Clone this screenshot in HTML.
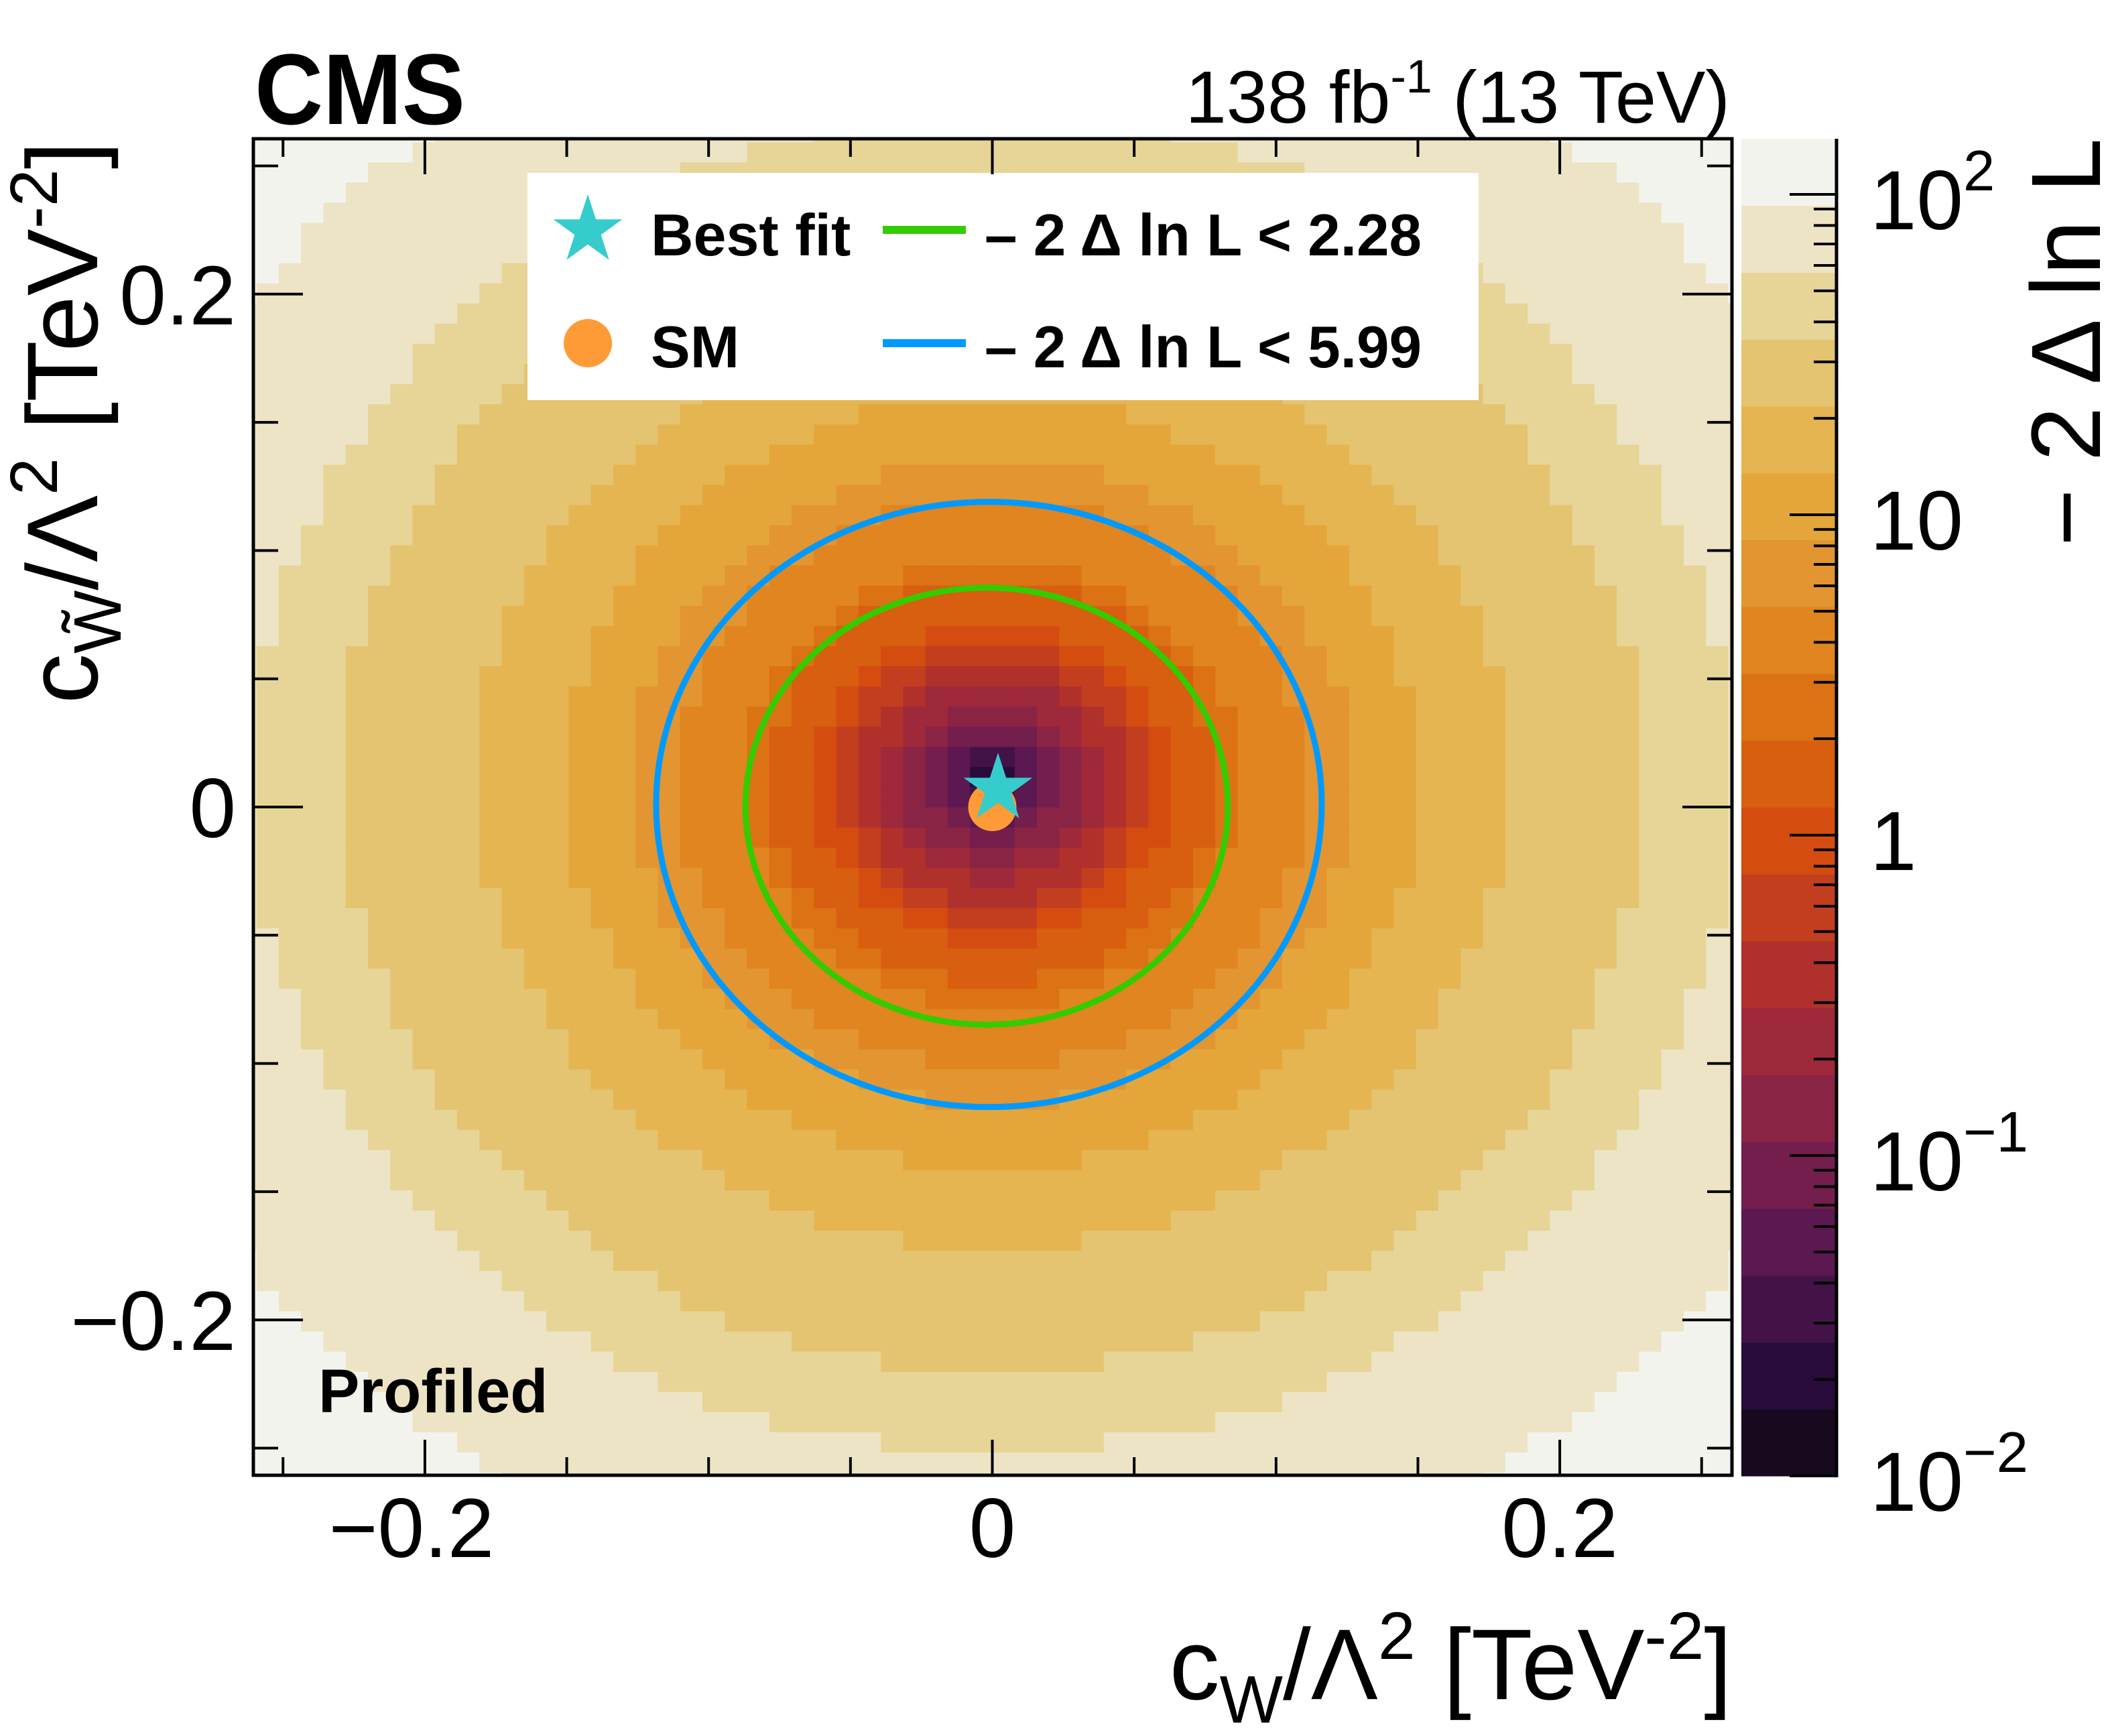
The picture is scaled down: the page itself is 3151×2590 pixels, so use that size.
<!DOCTYPE html>
<html><head><meta charset="utf-8"><style>
html,body{margin:0;padding:0;background:#fff;}
svg{display:block;font-family:"Liberation Sans",Arial,sans-serif;}
</style></head><body>
<svg id="chart" width="3151" height="2590" viewBox="0 0 3151 2590" xmlns="http://www.w3.org/2000/svg">
<defs><clipPath id="plotclip"><rect x="378" y="207" width="2206" height="1994"/></clipPath></defs>
<rect x="0" y="0" width="3151" height="2590" fill="#fff"/>
<g id="heatmap" clip-path="url(#plotclip)"></g>
<g id="contours" clip-path="url(#plotclip)"></g>
<g id="markers"></g>
<g id="legend">
  <rect x="787" y="258" width="1419" height="339" fill="#fff"/>
  <polygon id="legstar" fill="#36cccb"/>
  <text x="971" y="381" font-size="88" font-weight="bold">Best fit</text>
  <ellipse cx="877" cy="512" rx="36" ry="36" fill="#ff9b36"/>
  <text x="971" y="548" font-size="88" font-weight="bold">SM</text>
  <rect x="1317" y="337" width="124" height="12" fill="#33cc00"/>
  <text x="1469" y="381" font-size="88" font-weight="bold" textLength="652" lengthAdjust="spacingAndGlyphs">– 2  Δ ln L &lt; 2.28</text>
  <rect x="1317" y="506" width="124" height="12" fill="#0099ff"/>
  <text x="1469" y="548" font-size="88" font-weight="bold" textLength="652" lengthAdjust="spacingAndGlyphs">– 2  Δ ln L &lt; 5.99</text>
</g>
<g id="axes"></g>
<g id="colorbar"></g>
<text x="380" y="185" font-size="150" font-weight="bold" textLength="314" lengthAdjust="spacingAndGlyphs">CMS</text>
<text x="2581" y="183" font-size="110" text-anchor="end">138 fb<tspan font-size="70" dy="-45">-1</tspan><tspan dy="45"> (13 TeV)</tspan></text>
<text x="475" y="2107" font-size="92" font-weight="bold">Profiled</text>
<text x="2584" y="2535" font-size="150" text-anchor="end">c<tspan font-size="100" dy="35">W</tspan><tspan dy="-35">/Λ</tspan><tspan font-size="100" dy="-60">2</tspan><tspan dy="60"> [TeV</tspan><tspan font-size="100" dy="-60">-2</tspan><tspan dy="60">]</tspan></text>
<text transform="translate(145,1050) rotate(-90)" x="0" y="0" font-size="150">c<tspan font-size="100" dy="35">W̃</tspan><tspan dy="-35">/Λ</tspan><tspan font-size="100" dy="-60">2</tspan><tspan dy="60"> [TeV</tspan><tspan font-size="100" dy="-60">-2</tspan><tspan dy="60">]</tspan></text>
<text transform="translate(3133,206) rotate(-90)" x="0" y="0" font-size="147" text-anchor="end">− 2 Δ ln L</text>
</svg>
<script>
// ---- data ----
const profileR = [0.0, 0.004, 0.008, 0.011, 0.0156, 0.0236, 0.0314, 0.0392, 0.0472, 0.055, 0.0628, 0.0787, 0.0867, 0.110, 0.126, 0.150, 0.181, 0.229, 0.260, 0.320, 0.40];
const profileNLL = [0.012, 0.018, 0.030, 0.042, 0.068, 0.110, 0.178, 0.288, 0.466, 0.753, 1.22, 1.97, 3.18, 5.13, 8.3, 13.4, 21.7, 35.1, 56.6, 91.4, 160];
const minimumXY = [0.0, 0.010];
const binWidth = [0.00786];
const bandColors = ["#170a1e","#280b3a","#431347","#5c1850","#741e4d","#8a2444","#9e293a","#b0302c","#c23e1e","#d54c10","#d85e10","#db7214","#e0851f","#e29530","#e4a63a","#e4b551","#e4c471","#e6d596","#ede4c5","#f3f3ee"];
const colorLogMin = [-2];
const colorLogMax = [2.174];
const contourLevels = ["2.28","5.99"];
const contourColors = ["#33cc00","#0099ff"];
const contourCx = [-0.002, -0.0012];
const contourCy = [0.0003, 0.001];
const contourRx = [0.085, 0.1173];
const contourRy = [0.0852, 0.118];
const bestFit = [0.002, 0.006];
const smPoint = [0.0, 0.0];
const xTicks = [-0.2, 0, 0.2];
const xTickLabels = ["−0.2","0","0.2"];
const yTicks = [-0.2, 0, 0.2];
const yTickLabels = ["−0.2","0","0.2"];
const cbDecades = [-2,-1,0,1,2];
const cbLabels = ["10","10","1","10","10"];
const cbExps = ["−2","−1","","",  "2"];

// ---- axes ----
const NS="http://www.w3.org/2000/svg";
const X0=378,X1=2584,Y0=207,Y1=2201;
const sx=v=>1480.5+v*4233;
const sy=v=>1204-v*3826;
const CB0=2598,CB1=2740;
const cy=l=>2202-(l+2)*478;
function mk(tag,parent,attrs){const e=document.createElementNS(NS,tag);for(const k in attrs)e.setAttribute(k,attrs[k]);parent.appendChild(e);return e;}

function nll(x,y){
  const r=Math.hypot(x-minimumXY[0],y-minimumXY[1]);
  for(let i=1;i<profileR.length;i++){
    if(r<=profileR[i]){
      const t=(r-profileR[i-1])/(profileR[i]-profileR[i-1]);
      return Math.pow(10,Math.log10(profileNLL[i-1])+t*(Math.log10(profileNLL[i])-Math.log10(profileNLL[i-1])));
    }
  }
  return profileNLL[profileNLL.length-1];
}
function colorFor(v){
  const nb=bandColors.length;
  let k=Math.floor((Math.log10(v)-colorLogMin[0])/((colorLogMax[0]-colorLogMin[0])/nb));
  k=Math.max(0,Math.min(nb-1,k));
  return bandColors[k];
}
const hm=document.getElementById('heatmap');
const bw=binWidth[0];
for(let i=-34;i<34;i++){
  for(let j=-34;j<34;j++){
    const xa=i*bw,xb=(i+1)*bw,ya=j*bw,yb=(j+1)*bw;
    const v=nll((xa+xb)/2,(ya+yb)/2);
    const r=mk('rect',hm,{x:sx(xa),y:sy(yb),width:sx(xb)-sx(xa)+0.6,height:sy(ya)-sy(yb)+0.6,fill:colorFor(v)});
    
    
  }
}
const cg=document.getElementById('contours');
contourLevels.forEach((lv,i)=>{
  const e=mk('ellipse',cg,{cx:sx(contourCx[i]),cy:sy(contourCy[i]),rx:sx(contourRx[i])-sx(0),ry:sy(0)-sy(contourRy[i]),fill:'none',stroke:contourColors[i],'stroke-width':9});
  
  
});
function starPts(cx,cy,R){const r=R*0.382;let p=[];for(let k=0;k<10;k++){const a=-Math.PI/2+k*Math.PI/5;const rr=k%2?r:R;p.push((cx+rr*Math.cos(a)).toFixed(1)+','+(cy+rr*Math.sin(a)).toFixed(1));}return p.join(' ');}
const mg=document.getElementById('markers');
const sm=mk('circle',mg,{cx:sx(smPoint[0]),cy:sy(smPoint[1]),r:36,fill:'#ff9b36'});


const bf=mk('polygon',mg,{points:starPts(sx(bestFit[0]),sy(bestFit[1])-4,54),fill:'#36cccb'});


document.getElementById('legstar').setAttribute('points',starPts(877,344,54));

const ax=document.getElementById('axes');
const fr=mk('rect',ax,{x:X0,y:Y0,width:X1-X0,height:Y1-Y0,fill:'none',stroke:'#000','stroke-width':5});


for(let k=-5;k<=5;k++){
  const v=k*0.05, major=(k%4===0);
  const X=sx(v), Y=sy(v);
  const lx=major?53:27, ly=major?74:37;
  const t1=mk('line',ax,{x1:X,x2:X,y1:Y1,y2:Y1-lx,stroke:'#000','stroke-width':4});
  
  
  const t2=mk('line',ax,{x1:X,x2:X,y1:Y0,y2:Y0+lx,stroke:'#000','stroke-width':4});
  
  
  const t3=mk('line',ax,{x1:X0,x2:X0+ly,y1:Y,y2:Y,stroke:'#000','stroke-width':4});
  
  
  const t4=mk('line',ax,{x1:X1,x2:X1-ly,y1:Y,y2:Y,stroke:'#000','stroke-width':4});
  
  
}
xTicks.forEach((v,i)=>{
  const t=mk('text',ax,{x:sx(v)-(v<0?20:0),y:2323,'font-size':125,'text-anchor':'middle'});
  t.textContent=xTickLabels[i];
  
  
});
yTicks.forEach((v,i)=>{
  const t=mk('text',ax,{x:352,y:sy(v)+45,'font-size':125,'text-anchor':'end'});
  t.textContent=yTickLabels[i];
  
  
});
const cb=document.getElementById('colorbar');
const nb=bandColors.length, bstep=(colorLogMax[0]-colorLogMin[0])/nb;
bandColors.forEach((c,k)=>{
  const la=colorLogMin[0]+k*bstep, lb=colorLogMin[0]+(k+1)*bstep;
  const r=mk('rect',cb,{x:CB0,y:Math.max(Y0,cy(lb)),width:CB1-CB0,height:cy(la)-Math.max(Y0,cy(lb))+0.6,fill:c});
  
  
});
const cbl=mk('line',cb,{x1:CB1,x2:CB1,y1:Y0,y2:2204,stroke:'#000','stroke-width':5});


cbDecades.forEach((d,i)=>{
  const t=mk('line',cb,{x1:CB1,x2:CB1-70,y1:cy(d),y2:cy(d),stroke:'#000','stroke-width':4});
  
  
  for(let m=2;m<=9;m++){
    const l=d+Math.log10(m);
    if(l>colorLogMax[0]) break;
    const mt=mk('line',cb,{x1:CB1,x2:CB1-34,y1:cy(l),y2:cy(l),stroke:'#000','stroke-width':4});
    
    
  }
  const tx=mk('text',cb,{x:2790,y:cy(d)+52,'font-size':125});
  tx.textContent=cbLabels[i];
  if(cbExps[i]){const s=mk('tspan',tx,{'font-size':85,dy:-58});s.textContent=cbExps[i];}
  
  
});
</script>
</body></html>
